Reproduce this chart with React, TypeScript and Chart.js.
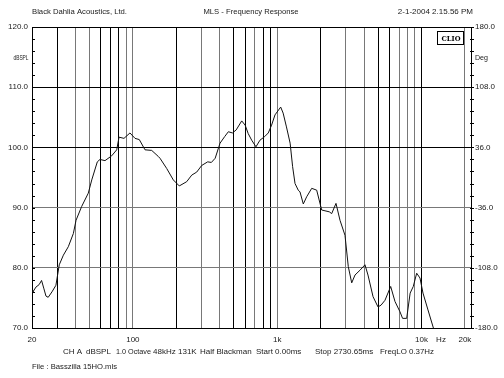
import React, { useEffect, useRef } from 'react';
import { Chart, registerables } from 'chart.js';

Chart.register(...registerables);

// ---- data ----
const freqHz = [
  20, 20.3, 21.3, 22.4, 23.3, 24.2, 25.0, 25.9, 27.5, 29.3, 30.9, 33.0, 35.7, 38.7, 40.4, 44.2, 49.1, 51.9,
  56.7, 59.2, 64.1, 71.3, 77.3, 80.2, 86.8, 95.5, 103.5, 110.8, 121.4, 135.1, 150, 154.2, 171.6, 190.7,
  209.8, 236, 256, 277, 300, 330, 350, 372, 402, 433, 459, 490, 520, 568, 600, 630, 666, 713, 760, 820,
  868, 915, 966, 1058, 1100, 1160, 1230, 1280, 1330, 1400, 1440, 1518, 1602, 1736, 1879, 2035, 2298,
  2388, 2557, 2726, 2952, 3112, 3286, 3464, 3750, 4062, 4260, 4620, 5000, 5250, 5588, 6120, 6556, 7098,
  7400, 7900, 8350, 8780, 9268, 9770, 10250, 11100, 12100, 12800,
];
const splDb = [
  76.2, 76.0, 76.8, 77.2, 77.9, 76.5, 75.3, 75.1, 76.0, 77.1, 80.5, 82.1, 83.5, 85.7, 87.9, 90.2, 92.4, 94.6,
  97.6, 98.0, 97.8, 98.6, 99.6, 101.7, 101.5, 102.4, 101.5, 101.3, 99.6, 99.5, 98.5, 98.2, 96.5, 94.6,
  93.6, 94.3, 95.4, 95.9, 97.0, 97.6, 97.5, 98.2, 100.7, 101.8, 102.6, 102.4, 102.9, 104.4, 103.7, 102.3,
  101.2, 100.1, 101.2, 101.8, 102.4, 103.7, 105.4, 106.7, 105.7, 103.4, 100.7, 96.8, 94.0, 92.9, 92.6,
  90.6, 91.8, 93.2, 92.9, 89.6, 89.3, 89.0, 90.7, 87.9, 85.4, 80.2, 77.5, 78.8, 79.6, 80.5, 78.8, 75.2,
  73.5, 73.8, 74.6, 76.9, 74.4, 72.7, 71.6, 71.6, 75.8, 76.9, 79.1, 78.3, 75.8, 73.0, 70.0, 68.5,
];

const xTickValues = [
  20, 30, 40, 50, 60, 70, 80, 90, 100, 200, 300, 400, 500, 600, 700, 800, 900, 1000, 2000, 3000, 4000,
  5000, 6000, 7000, 8000, 9000, 10000, 20000,
];
const xTickLabels: Record<number, string> = { 20: '20', 100: '100', 1000: '1k', 10000: '10k', 20000: '20k' };
const greyXLines = [40, 50, 90, 100, 300, 400, 700, 1000, 3000, 4000, 7000, 8000, 9000, 20000];
const greyYLines = [80, 90];

const headerLeft = 'Black Dahlia Acoustics, Ltd.';
const headerCenter = 'MLS - Frequency Response';
const headerRight = '2-1-2004 2.15.56 PM';
const leftUnit = 'dBSPL';
const rightUnit = 'Deg';
const xUnit = 'Hz';
const badge = 'CLIO';
const infoParts = ['CH A', 'dBSPL', '1.0 Octave', '48kHz', '131K', 'Half Blackman', 'Start 0.00ms', 'Stop 2730.65ms', 'FreqLO 0.37Hz'];
const fileLine = 'File : Basszilla 15HO.mls';

const FONT = '"Liberation Sans Narrow", "Liberation Sans", Arial, sans-serif';
const TEXT = '#1a1a1a';
const GREY = '#787878';

const decorPlugin = {
  id: 'decor',
  afterDraw(chart: any) {
    const { ctx, chartArea } = chart;
    const ys = chart.scales.y;
    ctx.save();
    // minor ticks
    ctx.strokeStyle = '#000';
    ctx.lineWidth = 1;
    ctx.beginPath();
    for (let v = 70; v <= 120; v += 2) {
      const y = Math.round(ys.getPixelForValue(v)) + 0.5;
      ctx.moveTo(chartArea.left, y);
      ctx.lineTo(chartArea.left + 3, y);
      ctx.moveTo(chartArea.right - 1, y);
      ctx.lineTo(chartArea.right + 3, y);
    }
    ctx.stroke();

    ctx.fillStyle = TEXT;
    ctx.font = `8px ${FONT}`;
    ctx.textBaseline = 'middle';
    // header
    ctx.textAlign = 'left';
    ctx.fillText(headerLeft, 32, 12, 95);
    ctx.textAlign = 'center';
    ctx.fillText(headerCenter, 251, 12, 95);
    ctx.textAlign = 'right';
    ctx.fillText(headerRight, 473, 12, 78);
    // units
    ctx.textAlign = 'center';
    ctx.fillText(leftUnit, 21, 58, 15);
    ctx.textAlign = 'left';
    ctx.fillText(rightUnit, 475, 58, 13);
    ctx.textAlign = 'center';
    ctx.fillText(xUnit, 441, 340, 10);
    // info line
    const starts = [63, 86, 116, 153, 178, 200, 256, 315, 380, 436];
    ctx.textAlign = 'left';
    infoParts.forEach((p, i) => {
      ctx.fillText(p, starts[i], 352, starts[i + 1] - starts[i] - 2);
    });
    ctx.fillText(fileLine, 32, 367, 85);

    // CLIO badge
    const bx = 437, by = 31, bw = 26, bh = 13;
    ctx.fillStyle = '#fff';
    ctx.fillRect(bx, by, bw, bh);
    ctx.strokeStyle = '#000';
    ctx.strokeRect(bx + 0.5, by + 0.5, bw, bh);
    ctx.fillStyle = '#000';
    ctx.font = `bold 8px "DejaVu Serif", serif`;
    ctx.textAlign = 'center';
    ctx.fillText(badge, bx + bw / 2 + 1, by + bh / 2 + 1, 19);
    ctx.restore();
  },
};

export default function App() {
  const ref = useRef<HTMLCanvasElement | null>(null);

  useEffect(() => {
    document.body.style.margin = '0';
    const canvas = ref.current;
    if (!canvas) return;
    const points = freqHz.map((f, i) => ({ x: f, y: splDb[i] }));
    const chart = new Chart(canvas, {
      type: 'line',
      data: {
        datasets: [
          {
            data: points,
            borderColor: '#111',
            borderWidth: 1,
            pointRadius: 0,
            tension: 0,
            fill: false,
          },
        ],
      },
      options: {
        responsive: false,
        animation: false,
        events: [],
        layout: { padding: { top: 27, left: 0, right: 0, bottom: 0 } },
        plugins: { legend: { display: false }, tooltip: { enabled: false }, title: { display: false } },
        scales: {
          x: {
            type: 'logarithmic',
            min: 20,
            max: 22050,
            afterBuildTicks: (scale: any) => {
              scale.ticks = xTickValues.map((v) => ({ value: v }));
            },
            afterFit: (scale: any) => {
              scale.height = 50;
            },
            ticks: {
              autoSkip: false,
              maxRotation: 0,
              minRotation: 0,
              padding: 7,
              color: TEXT,
              font: { family: FONT, size: 8 },
              callback: (v: any) => xTickLabels[Number(v)] ?? '',
            },
            grid: {
              drawTicks: false,
              lineWidth: 1,
              color: (c: any) => (c.tick && greyXLines.includes(c.tick.value) ? GREY : '#000'),
            },
            border: { display: true, color: '#000', width: 1 },
          },
          y: {
            type: 'linear',
            position: 'left',
            min: 70,
            max: 120,
            afterFit: (scale: any) => {
              scale.width = 32;
            },
            ticks: {
              stepSize: 10,
              padding: 4,
              color: TEXT,
              font: { family: FONT, size: 8 },
              callback: (v: any) => Number(v).toFixed(1),
            },
            grid: {
              drawTicks: false,
              lineWidth: 1,
              color: (c: any) => (c.tick && greyYLines.includes(c.tick.value) ? GREY : '#000'),
            },
            border: { display: true, color: '#000', width: 1 },
          },
          y2: {
            type: 'linear',
            position: 'right',
            min: -180,
            max: 180,
            afterFit: (scale: any) => {
              scale.width = 33;
            },
            ticks: {
              stepSize: 72,
              padding: 4,
              color: TEXT,
              font: { family: FONT, size: 8 },
              callback: (v: any) => Number(v).toFixed(1),
            },
            grid: { display: false, drawTicks: false },
            border: { display: true, color: '#000', width: 1 },
          },
        },
      },
      plugins: [decorPlugin],
    });
    return () => chart.destroy();
  }, []);

  return <canvas ref={ref} width={504} height={378} style={{ display: 'block', background: '#fff' }} />;
}
